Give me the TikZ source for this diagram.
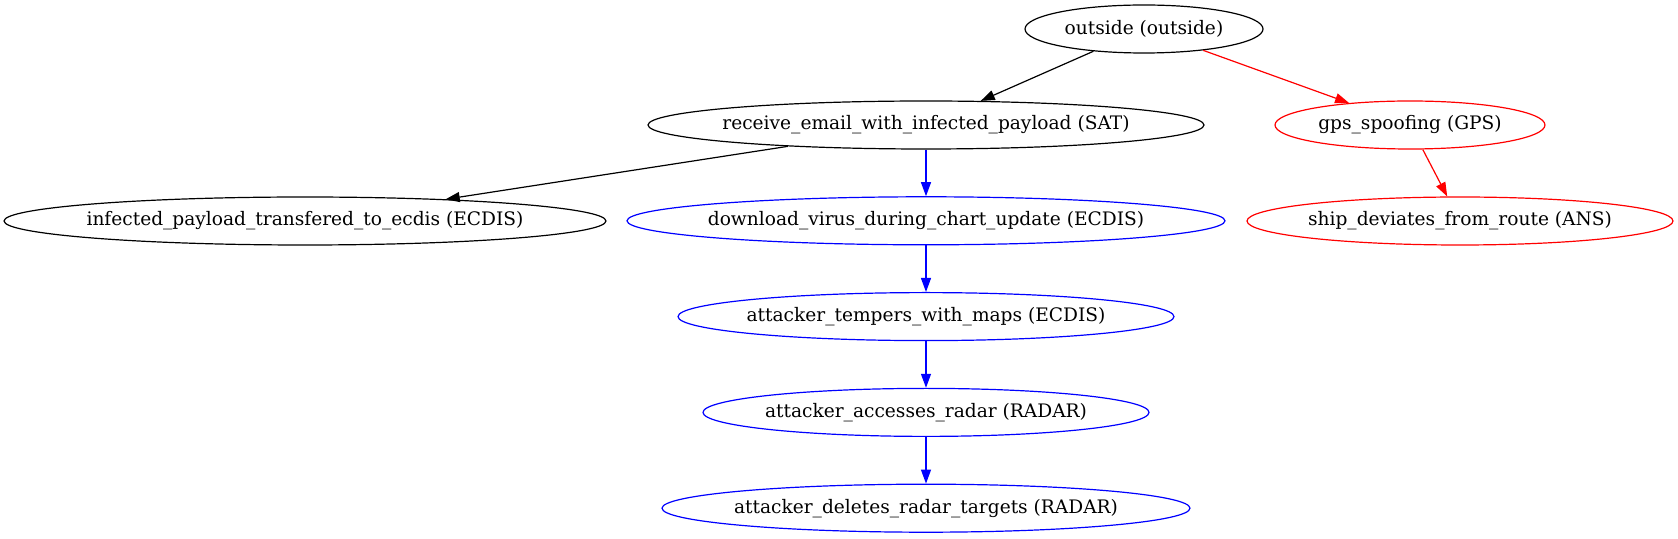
\documentclass[tikz,border=0pt]{standalone}
\usepackage{fontspec}
\newfontfamily\graphfont{DejaVu Serif}
\usepackage{tikz}
\usetikzlibrary{shapes.geometric,arrows.meta,positioning}
% label of zero width, so the ellipse keeps its given size
\newcommand\lbl[1]{\makebox[0pt]{#1}}

\begin{document}
\begin{tikzpicture}[
  x=0.5pt,y=-0.5pt,
  node distance=23.3pt,
  event/.style={ellipse,draw,line width=0.6pt,inner sep=0pt,text=black,
    minimum height=24pt,font=\graphfont\fontsize{9.3}{11}\selectfont},
  arrow/.style={-{Triangle[length=7pt,width=5pt]},line width=0.6pt}
]
  \useasboundingbox (0,0) rectangle (1678,539);
  \node[event,minimum width=119pt] (out) at (1144,29) {\lbl{outside (outside)}};
  \node[event,minimum width=278pt] (sat) at (926,125) {\lbl{receive\_email\_with\_infected\_payload (SAT)}};
  \node[event,draw=red,minimum width=135pt] (gps) at (1410,125) {\lbl{gps\_spoofing (GPS)}};
  \node[event,minimum width=301pt] (inf) at (305,221) {\lbl{infected\_payload\_transfered\_to\_ecdis (ECDIS)}};
  \node[event,draw=blue,minimum width=299pt,below=of sat] (dl) {\lbl{download\_virus\_during\_chart\_update (ECDIS)}};
  \node[event,draw=red,minimum width=213pt] (ans) at (1460,221) {\lbl{ship\_deviates\_from\_route (ANS)}};
  \node[event,draw=blue,minimum width=248pt,below=of dl] (maps) {\lbl{attacker\_tempers\_with\_maps (ECDIS)}};
  \node[event,draw=blue,minimum width=223pt,below=of maps] (radar) {\lbl{attacker\_accesses\_radar (RADAR)}};
  \node[event,draw=blue,minimum width=264pt,below=of radar] (del) {\lbl{attacker\_deletes\_radar\_targets (RADAR)}};
  \draw[arrow] (out)--(sat);
  \draw[arrow,red] (out)--(gps);
  \draw[arrow] (sat)--(inf);
  \draw[arrow,blue] (sat)--(dl);
  \draw[arrow,red] (gps)--(ans);
  \draw[arrow,blue] (dl)--(maps);
  \draw[arrow,blue] (maps)--(radar);
  \draw[arrow,blue] (radar)--(del);
\end{tikzpicture}
\end{document}
